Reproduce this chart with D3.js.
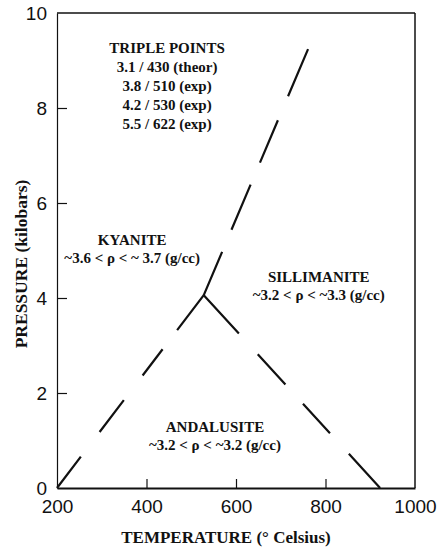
<!DOCTYPE html>
<html>
<head>
<meta charset="utf-8">
<script src="https://cdn.jsdelivr.net/npm/d3@7"></script>
<style>
  body { margin: 0; background: #fff; }
  .tick text { font-family: "Liberation Sans", Arial, sans-serif; font-size: 19px; fill: #111; }
  .lbl { font-family: "Liberation Serif", "Times New Roman", serif; font-weight: bold; fill: #111; }
</style>
</head>
<body>
<div id="chart"></div>
<script>
// axis ticks
const tempTicks = [200, 400, 600, 800, 1000];
const pressTicks = [0, 2, 4, 6, 8, 10];

// phase boundaries (temperature °C, pressure kbar), each drawn from the triple point outward
const triplePoint = [528, 4.06];
const kyaniteAndalusite = [triplePoint, [200, 0]];
const kyaniteSillimanite = [triplePoint, [761, 9.24]];
const andalusiteSillimanite = [triplePoint, [922, 0]];

// text blocks
const tripleLines = ["TRIPLE POINTS", "3.1 / 430 (theor)", "3.8 / 510 (exp)", "4.2 / 530 (exp)", "5.5 / 622 (exp)"];
const phases = [
  { name: "KYANITE", density: "~3.6 < ρ < ~ 3.7 (g/cc)", t: 368, p: 5.12 },
  { name: "SILLIMANITE", density: "~3.2 < ρ < ~3.3 (g/cc)", t: 785, p: 4.34 },
  { name: "ANDALUSITE", density: "~3.2 < ρ < ~3.2 (g/cc)", t: 553, p: 1.18 }
];

const width = 438, height = 549;
const margin = { top: 13, right: 23, bottom: 61, left: 57 };

const svg = d3.select("#chart")
  .append("svg")
    .attr("width", width)
    .attr("height", height);

const x = d3.scaleLinear().domain([200, 1000]).range([margin.left, width - margin.right]);
const y = d3.scaleLinear().domain([0, 10]).range([height - margin.bottom, margin.top]);

// frame
svg.append("line")
  .attr("x1", x(200)).attr("x2", x(1000)).attr("y1", y(10)).attr("y2", y(10))
  .attr("stroke", "#111").attr("stroke-width", 1.5);
svg.append("line")
  .attr("x1", x(1000)).attr("x2", x(1000)).attr("y1", y(10)).attr("y2", y(0))
  .attr("stroke", "#111").attr("stroke-width", 1.5);

// x axis, ticks pointing in
const xAxis = svg.append("g")
  .attr("transform", `translate(0,${y(0)})`)
  .call(d3.axisBottom(x).tickValues(tempTicks).tickFormat(d3.format("d"))
    .tickSizeInner(-9).tickSizeOuter(0).tickPadding(12));
xAxis.select(".domain").attr("stroke", "#111").attr("stroke-width", 2.2);
xAxis.selectAll(".tick line").attr("stroke", "#111").attr("stroke-width", 1.2);
xAxis.selectAll(".tick").filter(d => d === 200 || d === 1000).select("line").remove();

// y axis
const yAxis = svg.append("g")
  .attr("transform", `translate(${x(200)},0)`)
  .call(d3.axisLeft(y).tickValues(pressTicks).tickSizeInner(-10).tickSizeOuter(0).tickPadding(10));
yAxis.select(".domain").attr("stroke", "#111").attr("stroke-width", 1.2);
yAxis.selectAll(".tick line").attr("stroke", "#111").attr("stroke-width", 1.2);
yAxis.selectAll(".tick").filter(d => d === 0 || d === 10).select("line").remove();

// boundaries
const line = d3.line().x(d => x(d[0])).y(d => y(d[1]));
const boundaries = [
  { pts: kyaniteAndalusite, dash: "44,24,33,31,40,31,40" },
  { pts: kyaniteSillimanite, dash: "47,24,49,24,46,26,52" },
  { pts: andalusiteSillimanite, dash: "52,28,41,26,40,28,48" }
];
svg.selectAll("path.boundary")
  .data(boundaries)
  .join("path")
    .attr("class", "boundary")
    .attr("d", d => line(d.pts))
    .attr("fill", "none")
    .attr("stroke", "#111")
    .attr("stroke-width", 2.2)
    .attr("stroke-dasharray", d => d.dash);

// triple point notes
svg.append("text")
  .attr("class", "lbl")
  .attr("text-anchor", "middle")
  .attr("font-size", 15)
  .attr("x", x(446))
  .attr("y", y(9.15))
  .selectAll("tspan")
  .data(tripleLines)
  .join("tspan")
    .attr("x", x(446))
    .attr("dy", (d, i) => i === 0 ? 0 : 19)
    .text(d => d);

// phase labels
const ph = svg.selectAll("g.phase")
  .data(phases)
  .join("g")
    .attr("class", "phase");
ph.append("text")
  .attr("class", "lbl")
  .attr("text-anchor", "middle")
  .attr("font-size", 15)
  .attr("x", d => x(d.t))
  .attr("y", d => y(d.p))
  .text(d => d.name);
ph.append("text")
  .attr("class", "lbl")
  .attr("text-anchor", "middle")
  .attr("font-size", 15)
  .attr("x", d => x(d.t))
  .attr("y", d => y(d.p) + 18)
  .text(d => d.density);

// axis titles
svg.append("text")
  .attr("class", "lbl")
  .attr("text-anchor", "middle")
  .attr("font-size", 17)
  .attr("x", 226)
  .attr("y", 543)
  .text("TEMPERATURE (° Celsius)");

svg.append("text")
  .attr("class", "lbl")
  .attr("text-anchor", "middle")
  .attr("font-size", 17.5)
  .attr("transform", "translate(27,264) rotate(-90)")
  .text("PRESSURE (kilobars)");
</script>
</body>
</html>
